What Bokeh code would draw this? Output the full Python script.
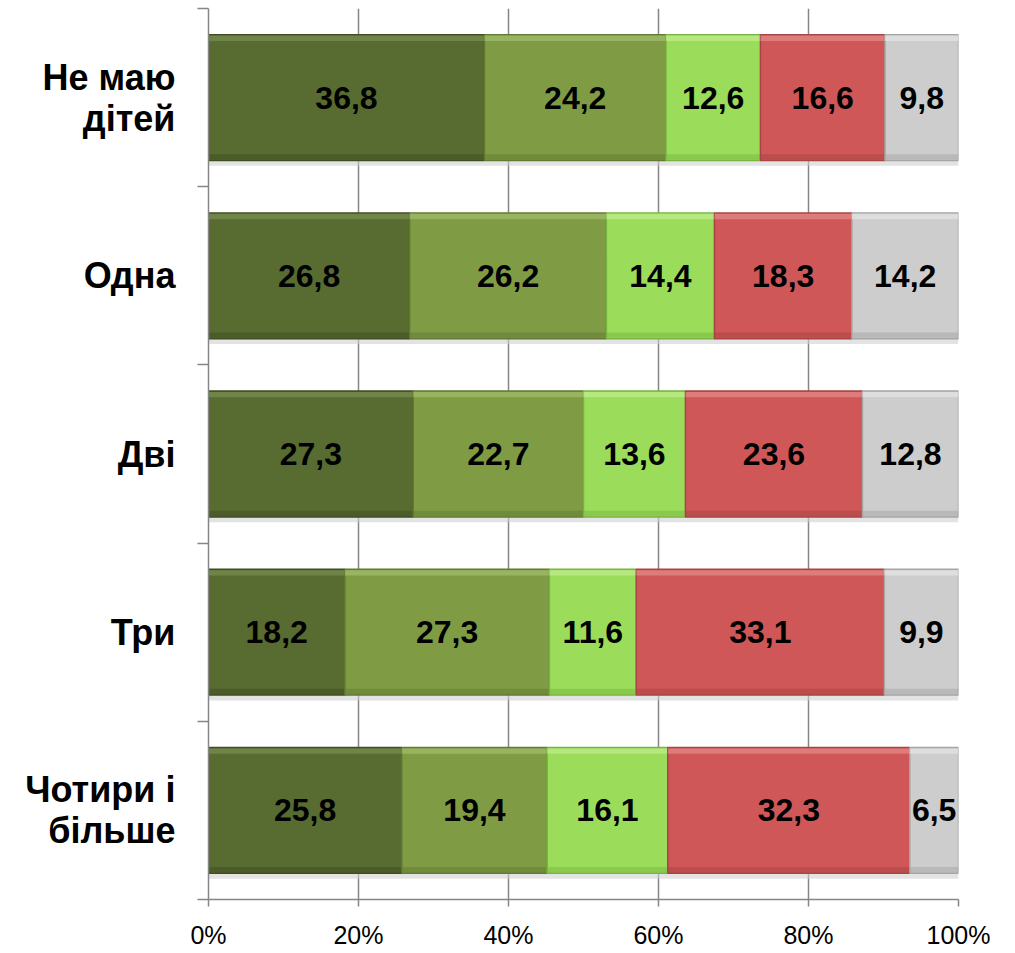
from bokeh.plotting import figure
from bokeh.models import Range1d, FixedTicker, ColumnDataSource
from bokeh.transform import dodge
from bokeh.core.properties import value
from bokeh.embed import file_html
from bokeh.resources import INLINE

categories = ["Не маю\nдітей", "Одна", "Дві", "Три", "Чотири і\nбільше"]
s1 = [36.8, 26.8, 27.3, 18.2, 25.8]
s2 = [24.2, 26.2, 22.7, 27.3, 19.4]
s3 = [12.6, 14.4, 13.6, 11.6, 16.1]
s4 = [16.6, 18.3, 23.6, 33.1, 32.3]
s5 = [9.8, 14.2, 12.8, 9.9, 6.5]
x_ticks = [0, 20, 40, 60, 80, 100]
x_tick_labels = ["0%", "20%", "40%", "60%", "80%", "100%"]

colors = ["#586B30", "#7F9C45", "#9BDC5A", "#CF5757", "#CDCDCD"]
light_colors = ["#7A8F52", "#A3BF6E", "#C0EE8E", "#E48A8A", "#E6E6E6"]
edge_colors = ["#3F4D22", "#627A33", "#78B540", "#A84444", "#A5A5A5"]

series = [s1, s2, s3, s4, s5]
n = len(categories)
ycenters = [i + 0.5 for i in range(n)]
totals = [sum(s[i] for s in series) for i in range(n)]

FONT = "Liberation Sans"
BAR_H = 0.706

p = figure(width=1000, height=951, output_backend="svg", toolbar_location=None,
           x_range=Range1d(0, 100), y_range=Range1d(n, 0),
           min_border_left=208, min_border_right=42, min_border_top=8,
           min_border_bottom=40)
p.outline_line_color = None
p.background_fill_color = "white"

# shadow under each bar
sh = ColumnDataSource(dict(y=ycenters, l=[0] * n, r=[100] * n))
p.hbar(y=dodge("y", 0.03, range=p.y_range), left="l", right="r", height=BAR_H,
       source=sh, fill_color="#D0D0D0", fill_alpha=0.6, line_color=None)

left = [0.0] * n
for k, s in enumerate(series):
    pct = [s[i] / totals[i] * 100 for i in range(n)]
    right = [left[i] + pct[i] for i in range(n)]
    src = ColumnDataSource(dict(
        y=ycenters, left=list(left), right=right,
        xc=[(left[i] + right[i]) / 2 for i in range(n)],
        lab=[("%.1f" % v).replace(".", ",") for v in s]))
    p.hbar(y="y", left="left", right="right", height=BAR_H, source=src,
           fill_color=colors[k], line_color=edge_colors[k], line_width=1.5)
    # bevel: light band on top, dark band at bottom
    p.hbar(y=dodge("y", -BAR_H / 2 + 0.02, range=p.y_range), left="left", right="right",
           height=0.03, source=src, fill_color=light_colors[k], fill_alpha=0.7,
           line_color=None)
    p.hbar(y=dodge("y", BAR_H / 2 - 0.02, range=p.y_range), left="left", right="right",
           height=0.03, source=src, fill_color=edge_colors[k], fill_alpha=0.5,
           line_color=None)
    p.text(x="xc", y="y", text="lab", source=src, text_align="center",
           text_baseline="middle", text_font=value(FONT), text_font_style="bold",
           text_font_size="32px", text_color="black")
    left = right

# grid
p.ygrid.grid_line_color = None
p.xgrid.ticker = FixedTicker(ticks=x_ticks)
p.xgrid.grid_line_color = "#868686"
p.xgrid.grid_line_width = 1.5
p.xgrid.level = "underlay"

# x axis
xa = p.xaxis[0]
xa.ticker = FixedTicker(ticks=x_ticks)
xa.major_label_overrides = {t: l for t, l in zip(x_ticks, x_tick_labels)}
xa.axis_line_color = "#868686"
xa.axis_line_width = 1.5
xa.major_tick_line_color = "#868686"
xa.major_tick_line_width = 1.5
xa.major_tick_out = 7
xa.major_tick_in = 0
xa.minor_tick_line_color = None
xa.major_label_text_font = FONT
xa.major_label_text_font_size = "25px"
xa.major_label_text_color = "black"
xa.major_label_standoff = 14

# y axis
ya = p.yaxis[0]
ya.ticker = FixedTicker(ticks=ycenters, minor_ticks=list(range(n + 1)))
ya.major_label_overrides = {c: lab for c, lab in zip(ycenters, categories)}
ya.axis_line_color = "#868686"
ya.axis_line_width = 1.5
ya.major_tick_line_color = None
ya.major_tick_out = 0
ya.major_tick_in = 0
ya.minor_tick_line_color = "#868686"
ya.minor_tick_line_width = 1.5
ya.minor_tick_out = 11
ya.minor_tick_in = 0
ya.major_label_text_font = FONT
ya.major_label_text_font_style = "bold"
ya.major_label_text_font_size = "36px"
ya.major_label_text_color = "black"
ya.major_label_standoff = 22
ya.major_label_text_line_height = 1.0

open("out.html", "w").write(file_html(p, INLINE))
